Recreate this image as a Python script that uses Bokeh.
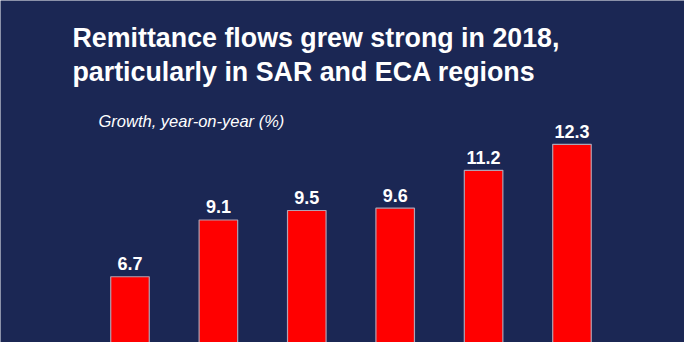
from bokeh.plotting import figure
from bokeh.models import ColumnDataSource, Range1d, Label, LabelSet
from bokeh.core.properties import value
from bokeh.embed import file_html
from bokeh.resources import INLINE

# ---- data ----
regions = ["EAP", "MNA", "LAC", "SSA", "ECA", "SAR"]
growth = [6.7, 9.1, 9.5, 9.6, 11.2, 12.3]
value_labels = ["6.7", "9.1", "9.5", "9.6", "11.2", "12.3"]
title_lines = ["Remittance flows grew strong in 2018,",
               "particularly in SAR and ECA regions"]
subtitle = "Growth, year-on-year (%)"

NAVY = "#1b2754"
FONT = "Liberation Sans"

src = ColumnDataSource(dict(
    x=list(range(len(regions))),
    region=regions,
    top=growth,
    label=value_labels,
))

W, H = 684, 342
p = figure(width=W, height=H, output_backend="svg", toolbar_location=None,
           x_range=Range1d(-1.465, 6.273), y_range=Range1d(3.92, 18.38),
           x_axis_location=None, y_axis_location=None, min_border=0)
p.background_fill_color = NAVY
p.border_fill_color = NAVY
p.outline_line_color = None
p.xgrid.visible = False
p.ygrid.visible = False

p.vbar(x="x", top="top", bottom=0, width=0.436, source=src,
       fill_color="#ff0000", line_color="#b0a3b3", line_width=1.2)

p.add_layout(LabelSet(x="x", y="top", text="label", source=src,
                      text_align="center", text_baseline="alphabetic",
                      y_offset=6.5, text_color="white", text_font=value(FONT),
                      text_font_style="bold", text_font_size="18px"))

for txt, sy in zip(title_lines, [305, 271]):
    p.add_layout(Label(x=72, y=sy, x_units="screen", y_units="screen", text=txt,
                       text_color="white", text_font=FONT,
                       text_font_style="bold", text_font_size="26.8px",
                       text_baseline="alphabetic"))

p.add_layout(Label(x=98, y=222, x_units="screen", y_units="screen", text=subtitle,
                   text_color="white", text_font=FONT,
                   text_font_style="italic", text_font_size="16.5px",
                   text_baseline="alphabetic"))

open("out.html", "w").write(file_html(p, INLINE))
